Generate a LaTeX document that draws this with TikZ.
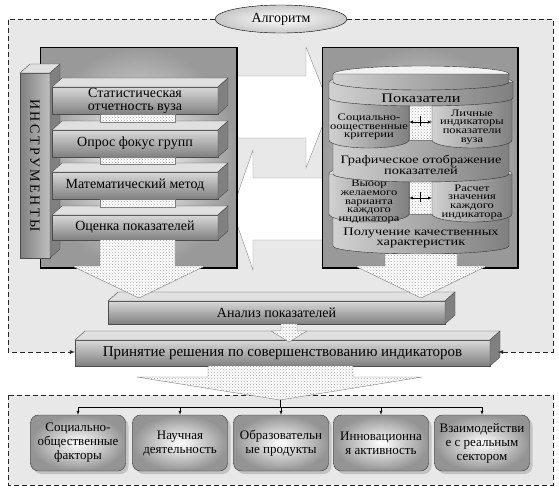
\documentclass[tikz,border=0pt]{standalone}
\usepackage{fontspec}
\setmainfont{Liberation Serif}
\newfontfamily\widefont[FakeStretch=1.25]{Liberation Serif}
\usetikzlibrary{arrows,calc,positioning,patterns,shadows,shapes.geometric}
\tikzset{
        frame/.style = {draw=black!85, thick, dash pattern=on 5pt off 3pt},
        panel/.style = {draw=black, inner color=white, outer color=black!40},
        slab/.style = {draw=black!70, outer sep=0pt, inner sep=1pt, align=center,
            top color=black!15, middle color=white, bottom color=black!50,
            font=\fontsize{14}{13}\selectfont},
        slabtop/.style = {draw=black!70, fill=black!12},
        slabside/.style = {draw=black!70, fill=black!50},
        cyl/.style = {draw=black!80, left color=black!18, middle color=white, right color=black!50},
        cyltop/.style = {draw=black!80, fill=black!5},
        cyltext/.style = {align=center, inner sep=0pt, font=\widefont\fontsize{11.5}{10}\selectfont},
        small/.style = {font=\widefont\fontsize{10}{8.7}\selectfont},
        bigarrow/.style = {draw=black!45, fill=white},
        dotarrow/.style = {draw=black!50, preaction={fill=white}, pattern=crosshatch dots, pattern color=black!35},
        factor/.style = {draw=black!80, rounded corners=8pt, minimum width=95pt,
            minimum height=56pt, align=center, inner sep=1pt,
            inner color=white, outer color=black!42,
            drop shadow={shadow xshift=3pt, shadow yshift=-3pt, opacity=0.35},
            font=\fontsize{13}{14}\selectfont},
        title/.style = {draw, ellipse, minimum width=132pt, minimum height=28pt,
            inner color=white, outer color=black!22, font=\fontsize{14}{14}\selectfont},
        arrow/.style = {draw, -latex},
    }
% front face with top and side faces
\newcommand{\slab}[7][]{%
  \node[slab, minimum width=#5pt, minimum height=#6pt, anchor=north west, #1] (#2) at (#3,#4) {#7};
  \draw[slabtop] (#2.north west) -- ++(10,-9) -- ($(#2.north east)+(10,-9)$) -- (#2.north east) -- cycle;
  \draw[slabside] (#2.north east) -- ++(10,-9) -- ($(#2.south east)+(10,-9)$) -- (#2.south east) -- cycle;
}
% one band of the cylinder stack
\newcommand{\cylband}[7][]{%
  \filldraw[cyltop] (#3,#4) ellipse ({#6} and 8);
  \path[cyl] ({#3-#6},#4) -- ({#3-#6},#5) .. controls ({#3-#6},{#5+4.4}) and ({#3-0.552*#6},{#5+8}) .. (#3,{#5+8})
    .. controls ({#3+0.552*#6},{#5+8}) and ({#3+#6},{#5+4.4}) .. ({#3+#6},#5) -- ({#3+#6},#4) -- cycle;
  \node[cyltext, #1] (#2) at (#3,{(#4+#5)/2+8}) {#7};
  \coordinate (#2-w) at ({#3-#6},{#4+24});
  \coordinate (#2-e) at ({#3+#6},{#4+24});
}

\begin{document}
\begin{tikzpicture}[x=1pt, y=-1pt]
\useasboundingbox (0,0) rectangle (559,491);

% algorithm frame
\fill[black!9] (8,19) rectangle (553,352);
\fill[black!9] (8,395) rectangle (553,485);
\draw[frame] (8,395) rectangle (553,485);

% arrows between the panels
\draw[bigarrow] (232,76) -- (306,76) -- (306,47) -- (330,107) -- (306,168) -- (306,138) -- (232,138) -- cycle;
\draw[bigarrow] (328,178) -- (253,178) -- (253,150) -- (232,210) -- (253,270) -- (253,240) -- (328,240) -- cycle;

% instruments
\draw[panel] (40,47) rectangle (237,268);
\draw[line width=1.5pt] (40,268) -- (237,268) -- (237,47);
\slab[left color=black!50, middle color=black!5, right color=black!25]{instr}{20}{73}{30}{185}{\rotatebox{-90}{\addfontfeature{LetterSpace=18}ИНСТРУМЕНТЫ}}
\slab{stat}{52}{87}{166}{27}{Статистическая\\отчетность вуза}
\slab{focus}{52}{130}{166}{27}{Опрос фокус групп}
\slab{math}{52}{172}{166}{27}{Математический метод}
\slab{eval}{52}{215}{166}{25}{Оценка показателей}
\foreach \a/\b in {stat/focus, focus/math, math/eval}
  \draw[dotarrow] ($(\a.south west)+(48,0)$) rectangle ($(\b.north west)+(123,-8)$);

% indicators
\draw[panel] (322,47) rectangle (518,268);
\draw[line width=1.5pt] (322,268) -- (518,268) -- (518,47);
\cylband{qual}{421}{214}{246}{88}{Получение качественных\\характеристик}
\draw[dotarrow] (409,180) rectangle (432,214);
\cylband[small]{choice}{369}{174}{214}{40}{Выоор\\желаемого\\варианта\\каждого\\индикатора}
\cylband[small]{calc}{472}{174}{214}{40}{Расчет\\значения\\каждого\\индикатора}
\cylband{graph}{421}{140}{174}{88}{Графическое отображение\\показателей}
\draw[dotarrow] (409,102) rectangle (432,140);
\cylband[small]{social}{369}{98}{140}{40}{Социально-\\оощественные\\критерии}
\cylband[small]{personal}{472}{98}{140}{40}{Личные\\индикаторы\\показатели\\вуза}
\cylband[font=\widefont\fontsize{13}{12}\selectfont]{ind}{421}{82}{98}{92}{Показатели}
\cylband{cap}{421}{74}{82}{88}{}
\foreach \a/\b in {social/personal, choice/calc} {
  \draw[-latex] ($(\a-e)!0.5!(\b-w)$) -- (\a-e);
  \draw[-latex] ($(\a-e)!0.5!(\b-w)$) -- (\b-w);
  \draw ($(\a-e)!0.5!(\b-w)+(0,-6)$) -- ++(0,10);
}

% analysis and decision
\slab[font=\fontsize{14}{14}\selectfont]{anal}{108}{301}{337}{23}{Анализ показателей}
\draw[dotarrow] (100,240) -- (100,266) -- (72,266) -- (139,298) -- (205,266) -- (175,266) -- (175,240);
\draw[dotarrow] (385,254) -- (385,266) -- (355,266) -- (421,298) -- (487,266) -- (457,266) -- (457,254);
\slab[font=\fontsize{15}{15}\selectfont]{decide}{75}{340}{415}{26}{Принятие решения по совершенствованию индикаторов}
\draw[dotarrow] (281,324) -- (281,331) -- (271,331) -- (289,342) -- (307,331) -- (297,331) -- (297,324);
\draw[dotarrow] (208,366) -- (208,377) -- (137,377) -- (280,400) -- (422,377) -- (353,377) -- (353,366);

\node[title] (algo) at (281,19) {Алгоритм};
\coordinate (fl) at (8,352);
\coordinate (fr) at (553,352);
\draw[frame, -latex] (algo.west) -- (8,19) -- (fl) -- (fl -| decide.west);
\draw[frame, -latex] (algo.east) -- (553,19) -- (fr) -- ($(fr -| decide.east)+(8,0)$);

% factors
\node[factor] (f1) at (78,443) {Социально-\\общественные\\факторы};
\node[factor] (f2) at (180,443) {Научная\\деятельность};
\node[factor] (f3) at (281,443) {Образовательн\\ые продукты};
\node[factor] (f4) at (381,443) {Инновационна\\я активность};
\node[factor] (f5) at (482,443) {Взаимодействи\\е с реальным\\сектором};
\coordinate (tip) at (280,400);
\coordinate (hub) at (280,407);
\draw (tip) -- (hub);
\draw (hub -| f1.north) -- (hub -| f5.north);
\foreach \i in {1,...,5}
  \draw[arrow] (hub -| f\i.north) -- (f\i.north);
\end{tikzpicture}
\end{document}
